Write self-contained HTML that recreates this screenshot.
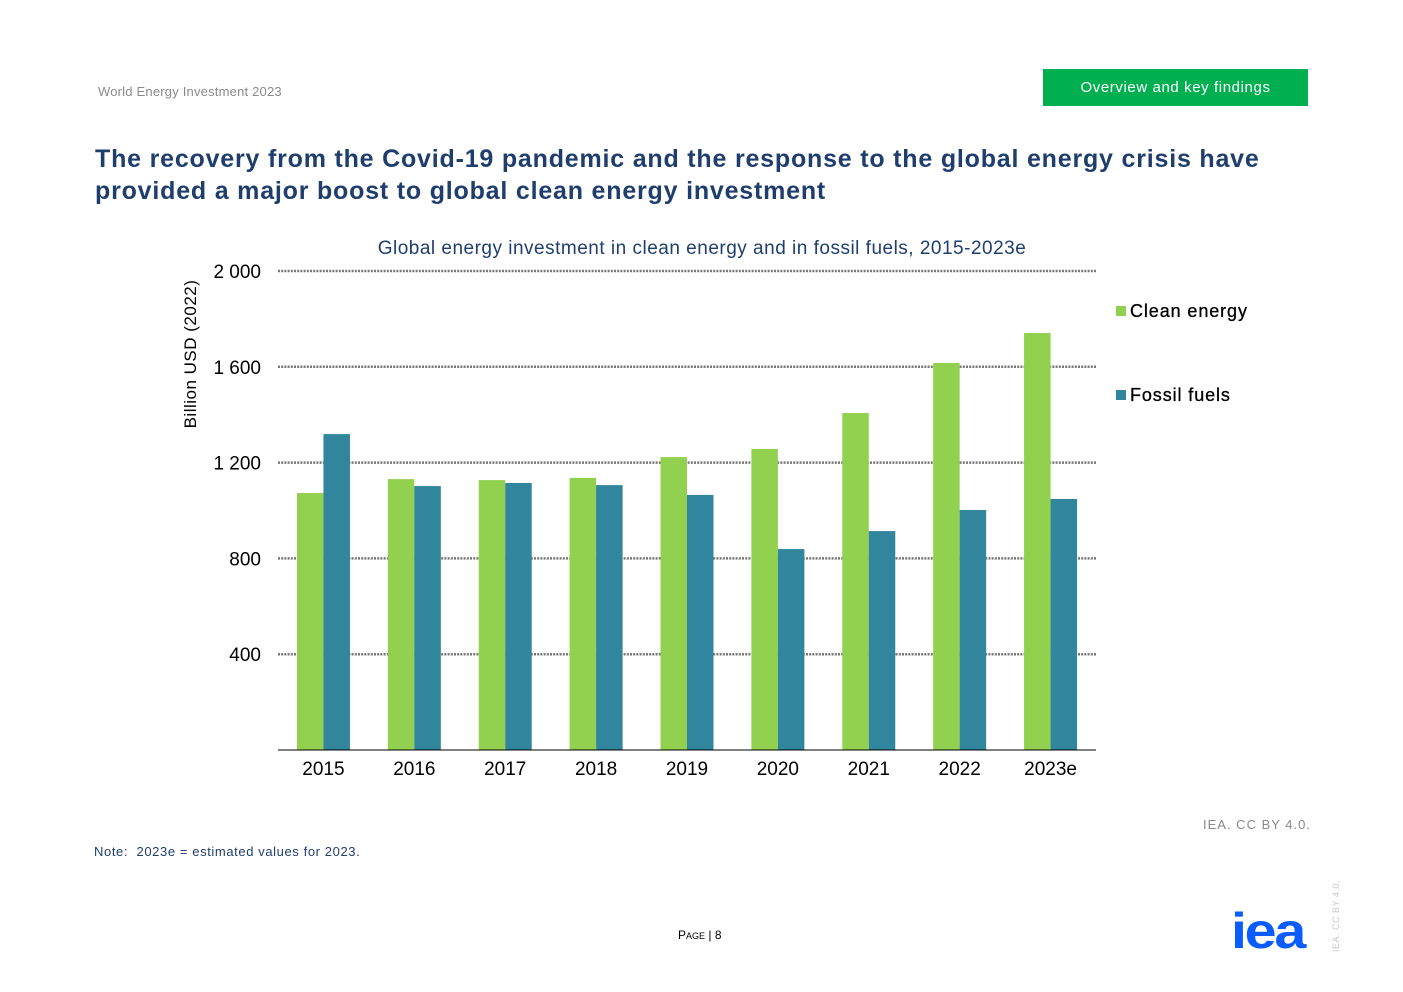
<!DOCTYPE html>
<html><head><meta charset="utf-8"><style>
body{margin:0;width:1403px;height:992px;background:#fff;font-family:"Liberation Sans",sans-serif;position:relative;overflow:hidden}
.a{position:absolute;white-space:nowrap}
</style></head><body>
<div class="a" style="left:98px;top:84px;font-size:13px;color:#8a8a8a;letter-spacing:0.2px">World Energy Investment 2023</div>
<div class="a" style="left:1043px;top:69px;width:265px;height:37px;background:#00b050;color:#fff;font-size:15px;line-height:37px;text-align:center;letter-spacing:0.6px">Overview and key findings</div>
<div class="a" style="left:95px;top:143px;font-size:25px;font-weight:bold;color:#1f3e6e;line-height:32px;letter-spacing:0.8px">The recovery from the Covid-19 pandemic and the response to the global energy crisis have<br>provided a major boost to global clean energy investment</div>
<svg class="a" style="left:0;top:0" width="1403" height="992" id="ch"></svg>
<div class="a" style="left:1203px;top:817px;font-size:13px;color:#8a8a8a;letter-spacing:1px">IEA. CC BY 4.0.</div>
<div class="a" style="left:94px;top:844px;font-size:13px;color:#1f3e6e;letter-spacing:0.6px">Note:&nbsp; 2023e = estimated values for 2023.</div>
<div class="a" style="left:678px;top:928px;font-size:12px;color:#000">P<span style="font-size:9px">AGE</span> | 8</div>
<div class="a" style="left:1231px;top:902px;font-size:50px;font-weight:bold;color:#0a5cff;letter-spacing:-2px;transform:scaleX(1.15);transform-origin:0 0">iea</div>
<div class="a" style="left:1331px;top:952px;font-size:9px;color:#c8c8c8;transform:rotate(-90deg);transform-origin:0 0;letter-spacing:0.5px">IEA. CC BY 4.0.</div>
<script>
const categories=["2015","2016","2017","2018","2019","2020","2021","2022","2023e"];
const cleanEnergy=[1073,1131,1127,1136,1223,1257,1407,1616,1741];
const fossilFuels=[1319,1102,1115,1106,1065,839,914,1002,1048];
const yTicks=[400,800,1200,1600,2000];
const yTickLabels=["400","800","1 200","1 600","2 000"];
const svg=document.getElementById('ch');const NS="http://www.w3.org/2000/svg";
const x0=278,x1=1096,y0=750,yTop=271,yMax=2000;
const y=v=>y0-(v/yMax)*(y0-yTop);
const bw=(x1-x0)/categories.length;
function el(t,a,txt){const e=document.createElementNS(NS,t);for(const k in a)e.setAttribute(k,a[k]);if(txt!=null)e.textContent=txt;svg.appendChild(e);return e;}
let t=el('text',{x:702,y:254,'text-anchor':'middle','font-size':19,fill:'#1f3e6e','letter-spacing':0.5},'Global energy investment in clean energy and in fossil fuels, 2015-2023e');


t=el('text',{transform:'translate(196,354) rotate(-90)','text-anchor':'middle','font-size':17,fill:'#000','letter-spacing':0.5},'Billion USD (2022)');


yTicks.forEach((v,i)=>{
 const g=el('line',{x1:x0,x2:x1,y1:y(v),y2:y(v),stroke:'#777','stroke-width':2.5,'stroke-dasharray':'2,1.2'});
 
 
 const l=el('text',{x:261,y:y(v)+7,'text-anchor':'end','font-size':19,fill:'#000'},yTickLabels[i]);
 
 
});
categories.forEach((c,i)=>{
 const cx=x0+bw*(i+0.5);
 const b1=el('rect',{x:cx-26.5,y:y(cleanEnergy[i]),width:26.5,height:y0-y(cleanEnergy[i]),fill:'#92d050'});
 
 
 const b2=el('rect',{x:cx,y:y(fossilFuels[i]),width:26.5,height:y0-y(fossilFuels[i]),fill:'#31859c'});
 
 
 const l=el('text',{x:cx,y:775,'text-anchor':'middle','font-size':19,fill:'#000'},c);
 
 
});
const ax=el('line',{x1:x0,x2:x1,y1:y0,y2:y0,stroke:'#000','stroke-width':1});


[["Clean energy","#92d050",311],["Fossil fuels","#31859c",395]].forEach(([n,c,yy])=>{
 const r=el('rect',{x:1116,y:yy-5,width:10,height:10,fill:c});
 
 
 const tx=el('text',{x:1130,y:yy+6,'font-size':18,fill:'#000','letter-spacing':0.9,'font-weight':500,stroke:'#000','stroke-width':0.3},n);
 
 
});
</script>
</body></html>
